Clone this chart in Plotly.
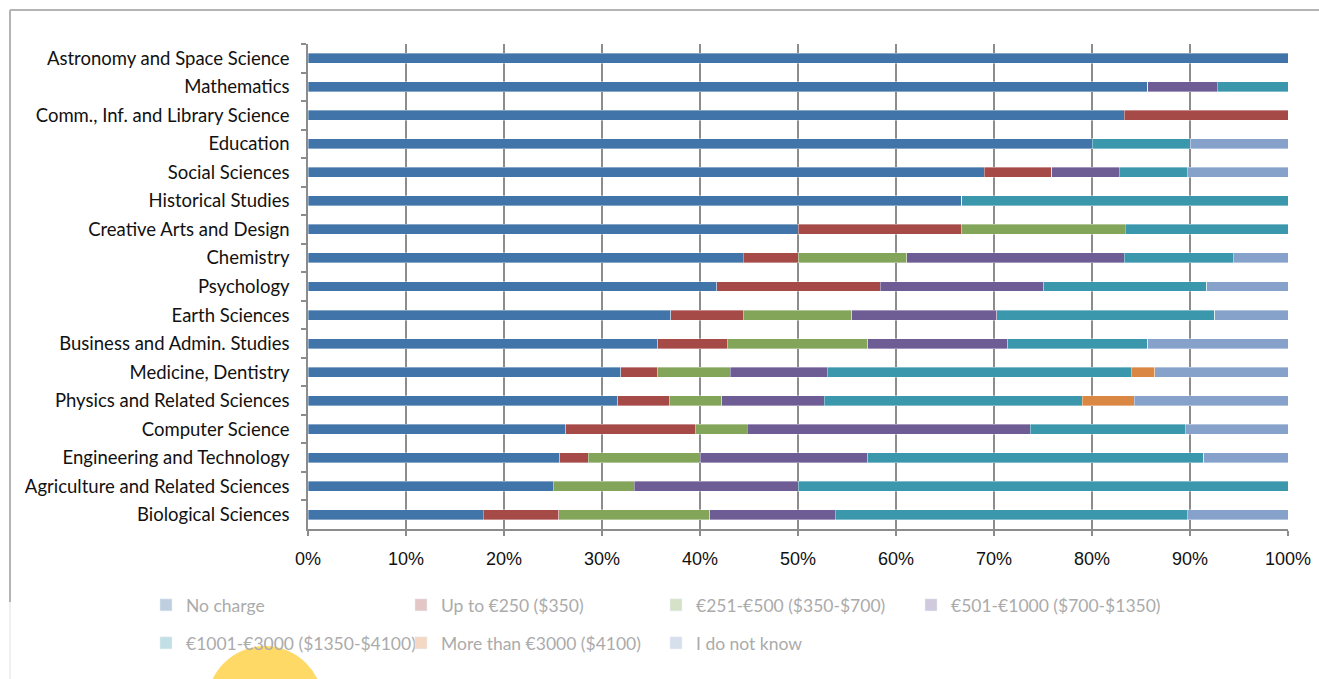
import plotly.graph_objects as go

categories = [
    "Astronomy and Space Science", "Mathematics", "Comm., Inf. and Library Science",
    "Education", "Social Sciences", "Historical Studies", "Creative Arts and Design",
    "Chemistry", "Psychology", "Earth Sciences", "Business and Admin. Studies",
    "Medicine, Dentistry", "Physics and Related Sciences", "Computer Science",
    "Engineering and Technology", "Agriculture and Related Sciences", "Biological Sciences",
]

series_names = [
    "No charge", "Up to €250 ($350)", "€251-€500 ($350-$700)", "€501-€1000 ($700-$1350)",
    "€1001-€3000 ($1350-$4100)", "More than €3000 ($4100)", "I do not know",
]

no_charge   = [100, 85.7, 83.3, 80, 69.0, 66.7, 50, 44.4, 41.7, 37.0, 35.7, 31.9, 31.6, 26.3, 25.7, 25.0, 17.9]
upto_250    = [0, 0, 16.7, 0, 6.9, 0, 16.7, 5.6, 16.7, 7.4, 7.1, 3.8, 5.3, 13.2, 2.9, 0, 7.7]
e251_500    = [0, 0, 0, 0, 0, 0, 16.7, 11.1, 0, 11.1, 14.3, 7.4, 5.3, 5.3, 11.4, 8.3, 15.4]
e501_1000   = [0, 7.1, 0, 0, 6.9, 0, 0, 22.2, 16.7, 14.8, 14.3, 9.9, 10.5, 28.9, 17.1, 16.7, 12.8]
e1001_3000  = [0, 7.2, 0, 10, 6.9, 33.3, 16.6, 11.1, 16.6, 22.2, 14.3, 31.0, 26.3, 15.8, 34.3, 50.0, 35.9]
more_3000   = [0, 0, 0, 0, 0, 0, 0, 0, 0, 0, 0, 2.4, 5.3, 0, 0, 0, 0]
dont_know   = [0, 0, 0, 10, 10.3, 0, 0, 5.6, 8.3, 7.5, 14.3, 13.6, 15.7, 10.5, 8.6, 0, 10.3]

x_ticks = [0, 10, 20, 30, 40, 50, 60, 70, 80, 90, 100]
x_tick_labels = ["0%", "10%", "20%", "30%", "40%", "50%", "60%", "70%", "80%", "90%", "100%"]

series_values = [no_charge, upto_250, e251_500, e501_1000, e1001_3000, more_3000, dont_know]
colors = ["#4174A8", "#A64A48", "#82A55A", "#6E5C94", "#3B97AC", "#DB8744", "#87A2CA"]
faded = ["#BFCFE0", "#E5C6C6", "#D5E2C8", "#D0CADC", "#C2DFE5", "#F4D8C4", "#D6DFEC"]

W, H = 1319, 679
L, R, T, B = 308, 1288, 44, 529
pw, ph = R - L, B - T

def px(x):
    return (x - L) / pw

def py(y):
    return (B - y) / ph

fig = go.Figure()
for name, vals, c in zip(series_names, series_values, colors):
    fig.add_trace(go.Bar(
        x=vals, y=categories, orientation="h", name=name,
        marker=dict(color=c, line=dict(width=0.6, color="rgba(255,255,255,0.6)")),
        showlegend=False,
    ))

# legend entry positions (page pixels of swatch start, row centre)
legend_pos = [(170, 605), (425, 605), (680, 605), (935, 605), (170, 643), (425, 643), (680, 643)]
legend_layouts = {}
for i, (name, c) in enumerate(zip(series_names, faded)):
    key = "legend" if i == 0 else f"legend{i + 1}"
    fig.add_trace(go.Bar(
        x=[None], y=[None], orientation="h", name=name,
        marker=dict(color=c), showlegend=True, legend=key,
    ))
    lx, ly = legend_pos[i]
    legend_layouts[key] = dict(
        x=px(lx - 24), y=py(ly), xanchor="left", yanchor="middle",
        orientation="h", itemwidth=30,
        font=dict(family="Lato", size=17.5, color="#ABABAB"),
        bgcolor="rgba(0,0,0,0)",
    )

fig.update_layout(
    width=W, height=H,
    margin=dict(l=L, r=W - R, t=T, b=H - B, pad=0, autoexpand=False),
    paper_bgcolor="white", plot_bgcolor="white",
    barmode="stack", bargap=0.65,
    showlegend=True,
    xaxis=dict(
        range=[0, 100], tickvals=x_ticks, ticktext=x_tick_labels,
        showgrid=True, gridcolor="#8C8C8C", gridwidth=1.5,
        showline=True, linecolor="#8C8C8C", linewidth=1.5,
        ticks="outside", ticklen=5, tickcolor="#8C8C8C", tickwidth=1.5,
        tickfont=dict(family="Liberation Sans", size=18, color="#111111"),
        ticklabelstandoff=8, zeroline=False, fixedrange=True, automargin=False,
    ),
    yaxis=dict(
        type="category", categoryorder="array", categoryarray=categories,
        autorange="reversed", tickson="boundaries",
        ticks="outside", ticklen=5, tickcolor="#8C8C8C", tickwidth=1.5,
        showline=True, linecolor="#8C8C8C", linewidth=1.5, showgrid=False,
        tickfont=dict(family="Lato", size=18.5, color="#111111"),
        ticklabelstandoff=13, automargin=False,
    ),
    shapes=[
        dict(type="line", xref="paper", yref="paper", x0=px(10), x1=px(1330), y0=py(10), y1=py(10),
             line=dict(color="#B4B4B4", width=2)),
        dict(type="line", xref="paper", yref="paper", x0=px(10), x1=px(10), y0=py(10), y1=py(602),
             line=dict(color="#B4B4B4", width=2)),
        dict(type="line", xref="paper", yref="paper", x0=px(10), x1=px(10), y0=py(602), y1=py(679),
             line=dict(color="#F0F0F0", width=2)),
        dict(type="circle", xref="paper", yref="paper",
             x0=px(265 - 58), x1=px(265 + 58), y0=py(646), y1=py(646 + 116),
             fillcolor="#FFD966", line=dict(width=0), layer="below"),
    ],
    **legend_layouts,
)

fig.write_html(
    "out.html",
    config={"displayModeBar": False},
    post_script="document.body.style.margin='0px';document.body.style.overflow='hidden';",
)
